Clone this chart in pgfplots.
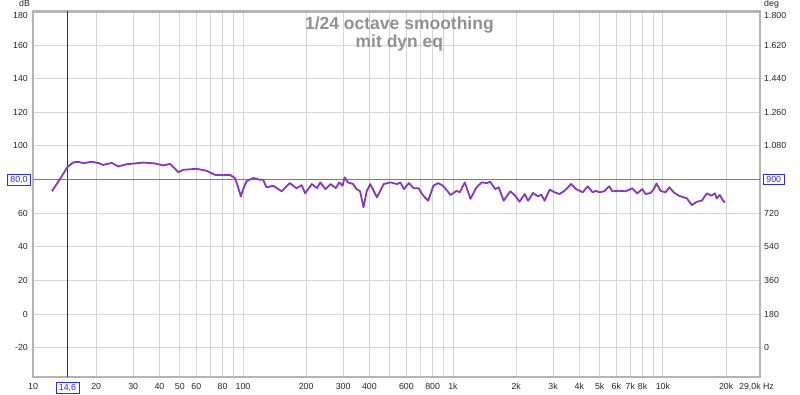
\documentclass[border=0pt]{standalone}
\usepackage{pgfplots}
\pgfplotsset{compat=1.18}
\usepackage{fontspec}
\setmainfont{Liberation Sans}
\definecolor{curvec}{RGB}{135,55,190}
\definecolor{cursvc}{RGB}{30,30,235}
\definecolor{curshc}{RGB}{110,110,245}
\definecolor{boxblue}{RGB}{45,45,225}
\definecolor{titlegray}{RGB}{145,145,145}
\definecolor{framec}{RGB}{180,180,180}
\definecolor{gridc}{RGB}{212,212,212}
\newcommand{\tfont}{\fontsize{8.8}{10}\selectfont}
\newcommand{\low}[1]{\raisebox{-3.5pt}[6.3pt][0pt]{#1}}
\pgfplotstableread{
f db
12.3 73.0
13.4 80.0
14.6 87.5
15.6 90.3
16.5 90.5
17.4 89.7
19.0 90.6
20.5 89.8
21.6 88.7
23.7 89.9
25.5 87.8
27.9 89.1
33.5 90.1
38 89.6
41.7 88.4
44.9 89.3
47 87
49.2 84.4
52 85.8
60.1 86.4
67.2 85.2
73.6 82.8
80.7 82.6
86.6 82.8
91.6 80.9
94.5 76
97.7 70.0
100 74
104 79.0
112 80.9
120 79.9
124.7 79.9
129.3 75.4
139.5 76.3
152.8 73
167.2 77.9
179.9 74.8
190.3 76.7
197.6 71.8
212.9 77.3
225.1 74.9
233.6 78.3
247 74.3
261.4 77.3
276.6 74.9
287.1 78.3
298 76.3
304.8 81.3
316.4 78.3
334.9 77.3
347.9 74.3
361.3 73
375 63.5
389 73.3
403.9 77.3
434.5 69.4
467.6 77.3
503.6 78.3
542 77.3
562 78.3
584 74.3
617 77.9
650 74.8
686 74.8
722 70.4
762 67.4
807 76.3
850 77.9
897 76.3
975 70.8
1040 73.3
1077 72.4
1139 78.3
1212 68.5
1295 75.4
1371 78.3
1450 77.9
1503 78.7
1591 74.3
1651 75.4
1744 67.4
1875 73
1981 70.4
2075 66.8
2198 71.4
2279 67.4
2407 72
2542 70
2636 71
2733 67.4
2887 74
3049 72.4
3220 71.4
3400 73.3
3655 77.3
3860 74.3
4150 72.4
4382 76
4627 72.4
4797 73.3
4973 72.4
5252 73
5546 76
5750 73
6180 73.3
6646 73
7140 74.8
7548 71.8
7976 74.3
8268 71.4
8729 72
9051 74.3
9317 77.7
9738 73.3
10281 72.4
10739 75.4
11258 72.4
11886 70.4
12549 69.4
13010 68.8
13249 67.4
13735 64.8
14503 66.8
15313 67.4
16168 71.8
17070 70.4
17697 71.8
18020 68.8
18683 70.8
19370 67.4
19727 66.4
}\curvedata
\begin{document}
\begin{tikzpicture}
\begin{axis}[
  at={(0pt,0pt)}, anchor=south west,
  scale only axis, width=727pt, height=365.5pt,
  xmode=log, xmin=10, xmax=29000, ymin=-37.5, ymax=180,
  major tick length=0pt, minor tick length=0pt,
  tick label style={font=\tfont, text=black!85, inner sep=0pt},
  clip=false,
  axis line style={draw=framec, line width=2.4pt},
  grid=major, major grid style={draw=gridc, line width=0.9pt},
  xtick={10,20,30,40,50,60,70,80,90,100,200,300,400,500,600,700,800,900,1000,2000,3000,4000,5000,6000,7000,8000,9000,10000,20000},
  xticklabels={10,20,30,40,50,60,,80,,100,200,300,400,,600,,800,,1k,2k,3k,4k,5k,6k,7k,8k,,10k,20k},
  ytick={-20,0,20,40,60,80,100,120,140,160,180},
  yticklabels={-20,0,20,40,60,,100,120,140,160,\low{180}},
  xticklabel style={yshift=-6.3pt},
  yticklabel style={xshift=-5pt},
]
\draw[color=cursvc, line width=1.2pt] (axis cs:14.6,-37.5) -- (axis cs:14.6,180);
\draw[color=curshc, line width=1.2pt] (axis cs:10,80) -- (axis cs:29000,80);
\addplot[draw=curvec, line width=1.8pt, line join=round, no marks] table[x=f, y=db] {\curvedata};
\node[draw=boxblue, text=boxblue, fill=white, line width=0.8pt, inner xsep=3pt, inner ysep=2pt, font=\tfont, anchor=east] at (axis cs:10,80) [xshift=-2pt] {80,0};
\node[draw=boxblue, text=boxblue, fill=white, line width=0.8pt, inner xsep=3pt, inner ysep=2pt, font=\tfont, anchor=north] at (axis cs:14.6,-37.5) [yshift=-5pt] {14,6};
\node[draw=boxblue, text=boxblue, fill=white, line width=0.8pt, inner xsep=3pt, inner ysep=2pt, font=\tfont, anchor=west] at (axis cs:29000,80) [xshift=3pt] {900};
\node[anchor=north, inner sep=0pt, font=\tfont, text=black!85] at (axis cs:29000,-37.5) [xshift=-3.5pt, yshift=-6.3pt] {29,0k Hz};
\node[anchor=base, inner sep=0pt, font=\tfont, text=black!85] at (rel axis cs:0,1) [xshift=-8.5pt, yshift=4.5pt] {dB};
\node[anchor=base west, inner sep=0pt, font=\tfont, text=black!85] at (rel axis cs:1,1) [xshift=4pt, yshift=4.5pt] {deg};
\node[anchor=base, inner sep=0pt, font=\fontsize{17.5}{18}\selectfont\bfseries, text=titlegray] at (rel axis cs:0.504,1) [yshift=-18.5pt] {1/24 octave smoothing};
\node[anchor=base, inner sep=0pt, font=\fontsize{17.5}{18}\selectfont\bfseries, text=titlegray] at (rel axis cs:0.504,1) [yshift=-36pt] {mit dyn eq};
\end{axis}
\begin{axis}[
  at={(0pt,0pt)}, anchor=south west,
  scale only axis, width=727pt, height=365.5pt,
  xmode=log, xmin=10, xmax=29000, ymin=-37.5, ymax=180,
  major tick length=0pt, minor tick length=0pt,
  tick label style={font=\tfont, text=black!85, inner sep=0pt},
  hide x axis,
  axis y line*=right,
  y axis line style={draw=none},
  ytick={-20,0,20,40,60,80,100,120,140,160,180},
  yticklabels={0,180,360,540,720,,1.080,1.260,1.440,1.620,\low{1.800}},
  yticklabel style={xshift=4pt},
]
\end{axis}
\path[use as bounding box] (-33pt,-17pt) rectangle (767pt,377pt);
\end{tikzpicture}
\end{document}
